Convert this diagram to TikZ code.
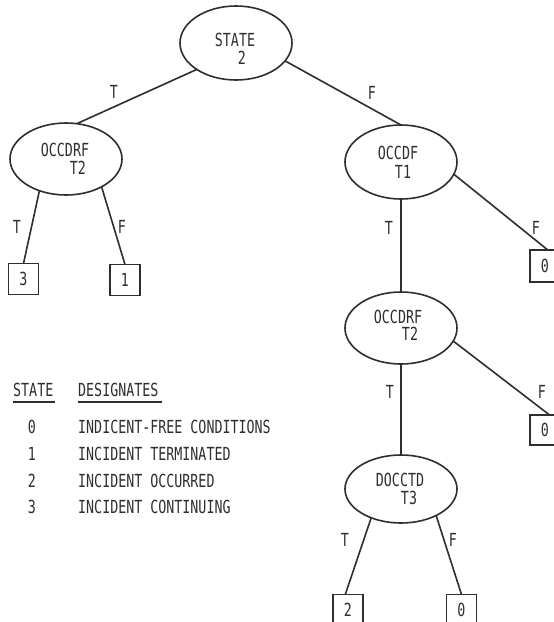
\documentclass[tikz,border=0pt]{standalone}
\usepackage{fontspec}
\newfontfamily\plotfont[FakeStretch=0.74]{DejaVu Sans Mono}
\usetikzlibrary{shapes.geometric}
\definecolor{ink}{HTML}{2E2E2E}
\tikzset{
  oval/.style={ellipse, draw=ink, line width=1.6pt, inner sep=0pt, outer sep=0pt},
  leaf/.style={rectangle, draw=ink, line width=1.6pt, minimum width=30pt, minimum height=31pt,
               inner sep=0pt, outer sep=0pt, text=ink, font=\plotfont\fontsize{18pt}{20pt}\selectfont},
  lbl/.style={inner sep=0pt, text=ink, font=\plotfont\fontsize{18pt}{20pt}\selectfont},
  branch/.style={draw=ink, line width=1.6pt},
}
\begin{document}
\begin{tikzpicture}[x=1pt, y=-1pt]
\useasboundingbox[fill=white] (0,0) rectangle (554,622);

% decision nodes
\node[oval, minimum width=112pt, minimum height=74pt] (s2) at (236,43) {};
\node[lbl] (s2a) at (235,40) {STATE};
\node[lbl] (s2b) at (242,58) {2};

\node[oval, minimum width=112pt, minimum height=72pt] (l1) at (66,159) {};
\node[lbl] (l1a) at (65,150) {OCCDRF};
\node[lbl] (l1b) at (78,168) {T2};

\node[oval, minimum width=112pt, minimum height=74pt] (r1) at (401,162) {};
\node[lbl] (r1a) at (398,153) {OCCDF};
\node[lbl] (r1b) at (403,172) {T1};

\node[oval, minimum width=112pt, minimum height=72pt] (r2) at (401,328) {};
\node[lbl] (r2a) at (398,317) {OCCDRF};
\node[lbl] (r2b) at (410,334) {T2};

\node[oval, minimum width=112pt, minimum height=68pt] (r3) at (401,489) {};
\node[lbl] (r3a) at (400,480) {DOCCTD};
\node[lbl] (r3b) at (409,498) {T3};

% resulting states
\node[leaf] (b3) at (23.5,279) {3};
\node[leaf] (b1) at (125,280) {1};
\node[leaf, minimum height=32pt] (b0a) at (545,266) {0};
\node[leaf, minimum height=30pt] (b0b) at (545,430) {0};
\node[leaf] (b2) at (348,610) {2};
\node[leaf] (b0c) at (461.5,610) {0};

% branches
\draw[branch] (s2.214) -- (l1.73);
\draw[branch] (s2.340) -- (r1.north);
\draw[branch] (l1.230) -- (b3.north);
\draw[branch] (l1.322) -- (b1.north);
\draw[branch] (r1.south) -- (r2.north);
\draw[branch] (r1.347) -- (b0a.80);
\draw[branch] (r2.south) -- (r3.north);
\draw[branch] (r2.346) -- (b0b.73);
\draw[branch] (r3.224) -- (b2.100);
\draw[branch] (r3.323) -- (b0c.north);

% branch labels
\node[lbl] (t1) at (114,92) {T};
\node[lbl] (f1) at (372,93) {F};
\node[lbl] (t2) at (17,227) {T};
\node[lbl] (f2) at (122,227) {F};
\node[lbl] (t3) at (389,228) {T};
\node[lbl] (f3) at (536,228) {F};
\node[lbl] (t4) at (390,392) {T};
\node[lbl] (f4) at (542,392) {F};
\node[lbl] (t5) at (345,540) {T};
\node[lbl] (f5) at (453,540) {F};

% legend
\node[lbl, anchor=west] (hs) at (13,390) {STATE};
\node[lbl, anchor=west] (hd) at (78,390) {DESIGNATES};
\draw[draw=ink, line width=1.2pt] ([yshift=-5pt]hs.south west) -- ([xshift=2pt,yshift=-5pt]hs.south east);
\draw[draw=ink, line width=1.2pt] ([yshift=-5pt]hd.south west) -- ([xshift=3pt,yshift=-5pt]hd.south east);
\node[lbl] (k0) at (32,427) {0};
\node[lbl, anchor=west] (d0) at (78,427) {INDICENT-FREE CONDITIONS};
\node[lbl] (k1) at (32,454) {1};
\node[lbl, anchor=west] (d1) at (78,454) {INCIDENT TERMINATED};
\node[lbl] (k2) at (32,481) {2};
\node[lbl, anchor=west] (d2) at (78,481) {INCIDENT OCCURRED};
\node[lbl] (k3) at (32,507) {3};
\node[lbl, anchor=west] (d3) at (78,507) {INCIDENT CONTINUING};
\end{tikzpicture}
\end{document}
